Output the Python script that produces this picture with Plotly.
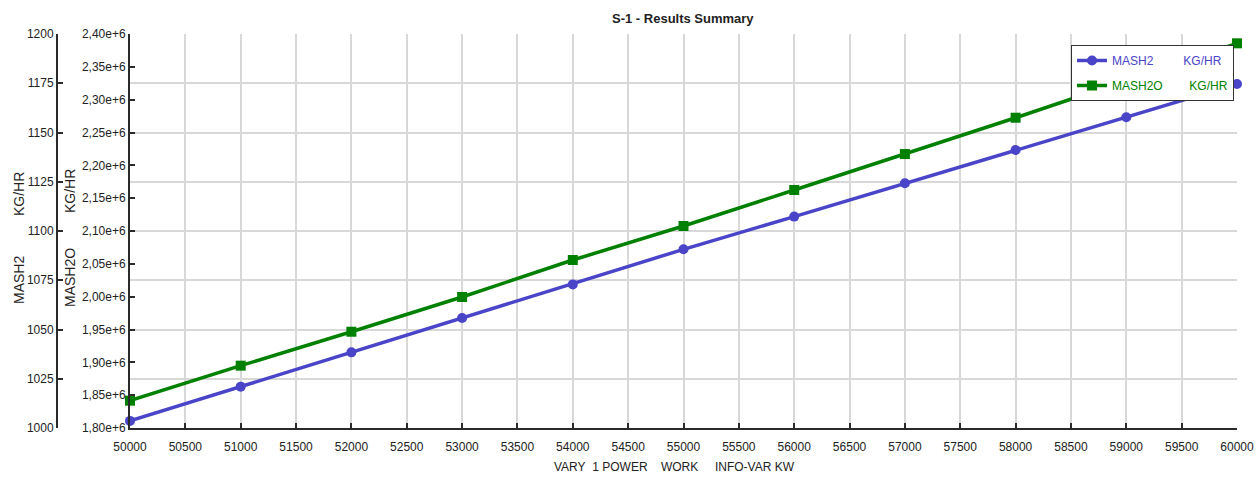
import plotly.graph_objects as go

# Sensitivity block S-1: power input vs. hydrogen / water mass flows
power_kw = [50000, 51000, 52000, 53000, 54000, 55000, 56000, 57000, 58000, 59000, 60000]
mash2_kg_hr = [1003.6, 1021.0, 1038.4, 1055.8, 1072.9, 1090.7, 1107.3, 1124.2, 1141.1, 1157.7, 1174.6]
mash2o_kg_hr = [1841600, 1894900, 1946600, 1999500, 2055800, 2107600, 2162400, 2217200, 2272500, 2329200, 2385800]

x_ticks = list(range(50000, 60001, 500))
x_tick_labels = [str(v) for v in x_ticks]
mash2_ticks = [1000, 1025, 1050, 1075, 1100, 1125, 1150, 1175, 1200]
mash2_tick_labels = ["1000", "1025", "1050", "1075", "1100", "1125", "1150", "1175", "1200"]
mash2o_ticks = [1.80e6, 1.85e6, 1.90e6, 1.95e6, 2.00e6, 2.05e6, 2.10e6, 2.15e6,
                2.20e6, 2.25e6, 2.30e6, 2.35e6, 2.40e6]
mash2o_tick_labels = ["1,80e+6", "1,85e+6", "1,90e+6", "1,95e+6", "2,00e+6", "2,05e+6",
                      "2,10e+6", "2,15e+6", "2,20e+6", "2,25e+6", "2,30e+6", "2,35e+6", "2,40e+6"]

BLUE = "#4a44c8"
GREEN = "#008000"
AXIS = "#2a2a2a"
GRID = "#d8d8d8"
FONT = "Liberation Sans, Arial, sans-serif"
NB = "\u00a0"

W, H = 1260, 478
ML, MR, MT, MB = 0, 23, 34, 50
PW = W - ML - MR          # paper width in px
PH = H - MT - MB          # paper height in px
PLOT_LEFT = 130


def px_x(p):
    return (p - ML) / PW


def px_y(p):
    return (H - MB - p) / PH


fig = go.Figure()
fig.add_trace(go.Scatter(
    x=power_kw, y=mash2_kg_hr, yaxis="y", mode="lines+markers",
    name=f'<span style="color:{BLUE}">MASH2{NB * 9}KG/HR</span>',
    line=dict(color=BLUE, width=3.5),
    marker=dict(symbol="circle", size=10, color=BLUE),
    cliponaxis=False, legendgroup="a",
))
fig.add_trace(go.Scatter(
    x=power_kw, y=mash2o_kg_hr, yaxis="y2", mode="lines+markers",
    name=f'<span style="color:{GREEN}">MASH2O{NB * 8}KG/HR</span>',
    line=dict(color=GREEN, width=3.5),
    marker=dict(symbol="square", size=10, color=GREEN),
    cliponaxis=False, legendgroup="b",
))

tick_font = dict(family=FONT, size=12, color="#222")

fig.update_layout(
    width=W, height=H,
    margin=dict(l=ML, r=MR, t=MT, b=MB, autoexpand=False),
    paper_bgcolor="white", plot_bgcolor="white",
    font=dict(family=FONT, size=12, color="#222"),
    showlegend=True,
    legend=dict(
        x=px_x(1071), y=px_y(45), xanchor="left", yanchor="top",
        bgcolor="white", bordercolor="#333", borderwidth=1,
        font=dict(family=FONT, size=12), itemwidth=30,
        traceorder="grouped", tracegroupgap=6,
    ),
    xaxis=dict(
        domain=[px_x(PLOT_LEFT), 1], range=[50000, 60000], automargin=False,
        tickvals=x_ticks, ticktext=x_tick_labels, tickfont=tick_font,
        ticklabelstandoff=7,
        showline=True, linecolor=AXIS, linewidth=2,
        ticks="inside", ticklen=5, tickwidth=1.5, tickcolor=AXIS,
        showgrid=True, gridcolor=GRID, gridwidth=1.5, zeroline=False,
    ),
    yaxis=dict(
        anchor="free", position=px_x(57), side="left", automargin=False,
        range=[1000, 1200], tickvals=mash2_ticks, ticktext=mash2_tick_labels,
        tickfont=tick_font,
        showline=True, linecolor=AXIS, linewidth=2,
        ticks="inside", ticklen=5, tickwidth=1.5, tickcolor=AXIS,
        showgrid=True, gridcolor=GRID, gridwidth=1.5, zeroline=False,
    ),
    yaxis2=dict(
        overlaying="y", anchor="x", side="left", automargin=False,
        range=[1.8e6, 2.4e6], tickvals=mash2o_ticks, ticktext=mash2o_tick_labels,
        tickfont=tick_font,
        showline=True, linecolor=AXIS, linewidth=2,
        ticks="inside", ticklen=5, tickwidth=1.5, tickcolor=AXIS,
        showgrid=False, zeroline=False,
    ),
)

title_font = dict(family=FONT, size=14, color="#2a1f1f")
annotations = [
    dict(text="<b>S-1 - Results Summary</b>", x=px_x(683), y=px_y(18),
         font=dict(family=FONT, size=13, color="#222")),
    dict(text=f"VARY{NB * 2}1 POWER{NB * 4}WORK{NB * 5}INFO-VAR{NB}KW",
         x=px_x(675), y=px_y(467), font=dict(family=FONT, size=12, color="#222")),
    dict(text="KG/HR", x=px_x(19), y=px_y(194), textangle=-90, font=title_font),
    dict(text="MASH2", x=px_x(19), y=px_y(280), textangle=-90, font=title_font),
    dict(text="KG/HR", x=px_x(70), y=px_y(191), textangle=-90, font=title_font),
    dict(text="MASH2O", x=px_x(70), y=px_y(278), textangle=-90, font=title_font),
]
for a in annotations:
    a.update(xref="paper", yref="paper", showarrow=False, xanchor="center", yanchor="middle")
fig.update_layout(annotations=annotations)

fig.write_html("out.html")
